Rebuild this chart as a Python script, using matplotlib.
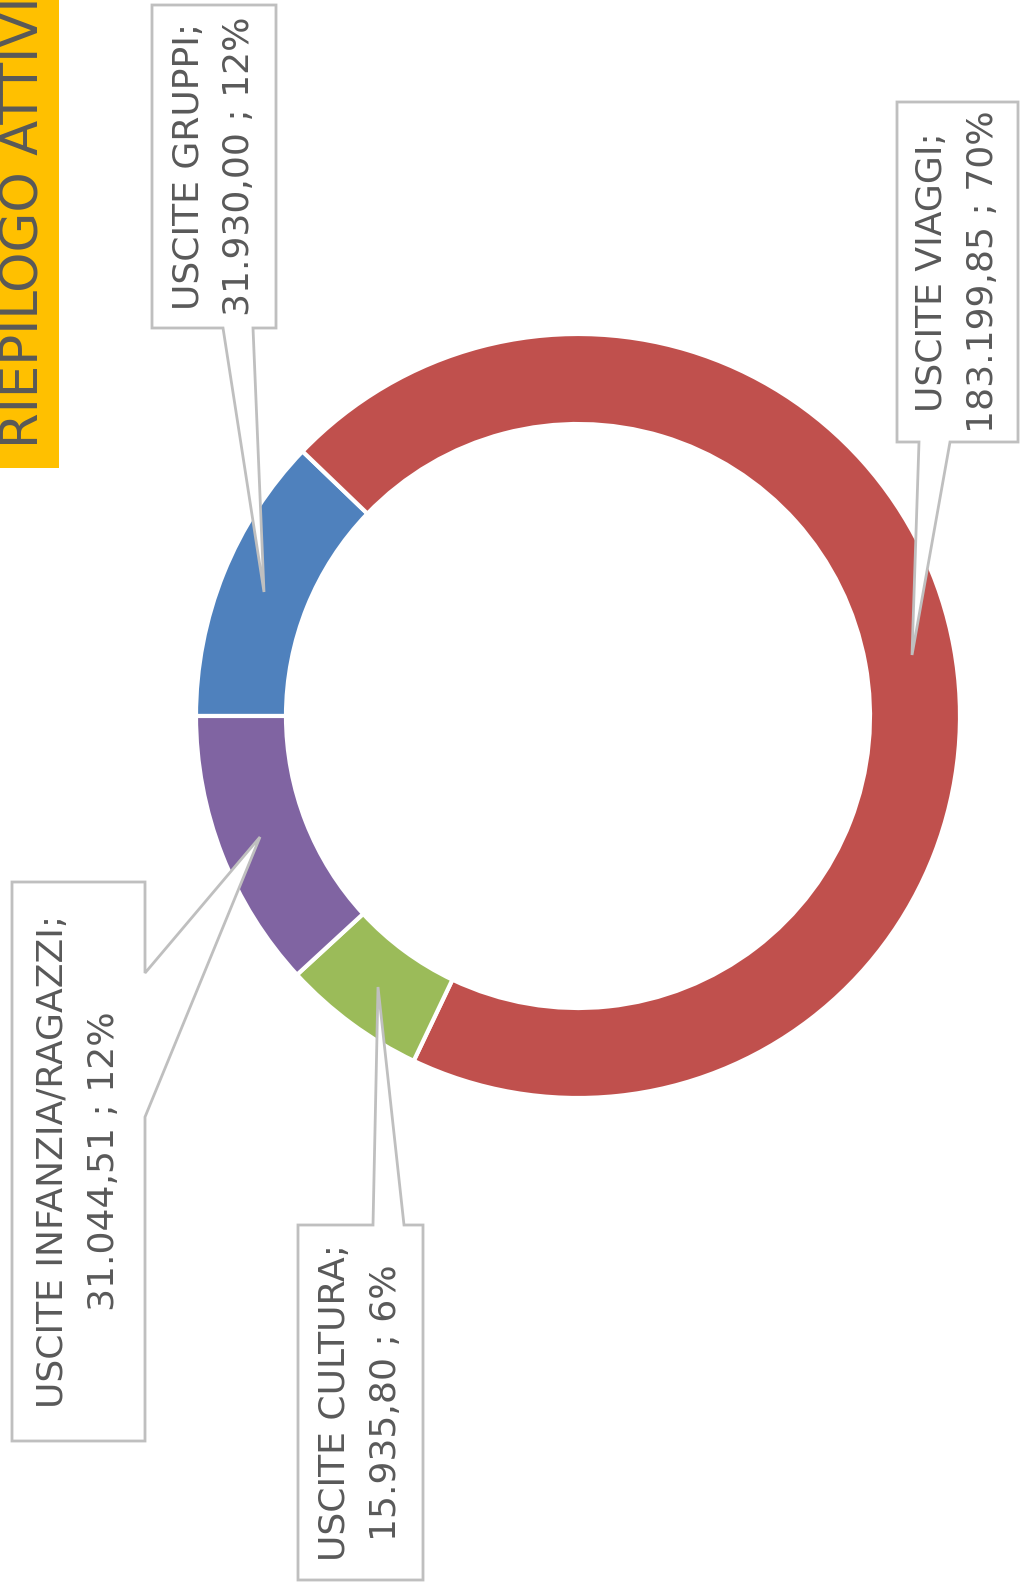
import matplotlib.pyplot as plt
from matplotlib.patches import Polygon, Rectangle

# data
categories = ['USCITE GRUPPI', 'USCITE VIAGGI', 'USCITE CULTURA', 'USCITE INFANZIA/RAGAZZI']
values = [31930.00, 183199.85, 15935.80, 31044.51]
colors = ['#4F81BD', '#C0504D', '#9BBB59', '#8064A2']
title = 'RIEPILOGO ATTIVITÀ'

W, H = 1024, 1595
TXT = '#595959'
GREY = '#BFBFBF'
FONT = ['Liberation Sans Narrow', 'DejaVu Sans']


def fy(y):
    # image pixel row -> data y
    return H - y


def it_money(v):
    s = f'{v:,.2f}'
    return s.replace(',', 'X').replace('.', ',').replace('X', '.')


# callout layout in image pixels: polygon outline incl. pointer, and the box part
callouts = [
    [(152, 5), (276, 5), (276, 328), (253, 328), (264, 592), (223, 328), (152, 328)],
    [(897, 102), (1018, 102), (1018, 442), (950, 442), (912, 655), (919, 442), (897, 442)],
    [(298, 1225), (373, 1225), (378, 987), (404, 1225), (423, 1225), (423, 1580), (298, 1580)],
    [(12, 882), (145, 882), (145, 973), (260, 837), (145, 1117), (145, 1441), (12, 1441)],
]
boxes = [(152, 5, 276, 328), (897, 102, 1018, 442), (298, 1225, 423, 1580), (12, 882, 145, 1441)]

fig = plt.figure(figsize=(W / 100, H / 100), dpi=100)
fig.patch.set_facecolor('white')
ax = fig.add_axes([0, 0, 1, 1])

# donut
ax.pie(values, colors=colors, startangle=180, counterclock=False,
       radius=382, center=(578, fy(716)),
       wedgeprops=dict(width=90, edgecolor='white', linewidth=3))

# title strip (cut off at the top edge, as in the original)
ax.add_patch(Rectangle((0, fy(468)), 59, 468, facecolor='#FFC000', edgecolor='none', zorder=1))
ax.text(37, fy(448), title, rotation=90, rotation_mode='anchor', ha='left', va='baseline',
        fontsize=37, color=TXT, family=FONT, zorder=2)

# data labels with callouts
total = sum(values)
for cat, v, pts, (x0, y0, x1, y1) in zip(categories, values, callouts, boxes):
    poly = Polygon([(x, fy(y)) for x, y in pts], closed=True, facecolor='white',
                   edgecolor=GREY, linewidth=2, zorder=5)
    ax.add_patch(poly)
    label = f'{cat};\n{it_money(v)} ; {round(v / total * 100)}%'
    ax.text((x0 + x1) / 2, fy((y0 + y1) / 2), label, rotation=90, rotation_mode='anchor',
            ha='center', va='center', multialignment='center', linespacing=1.6,
            fontsize=26, color=TXT, family=FONT, zorder=6)

ax.set_xlim(0, W)
ax.set_ylim(0, H)
ax.set_aspect('auto')
ax.axis('off')

fig.savefig('out.png', dpi=100, facecolor='white')
